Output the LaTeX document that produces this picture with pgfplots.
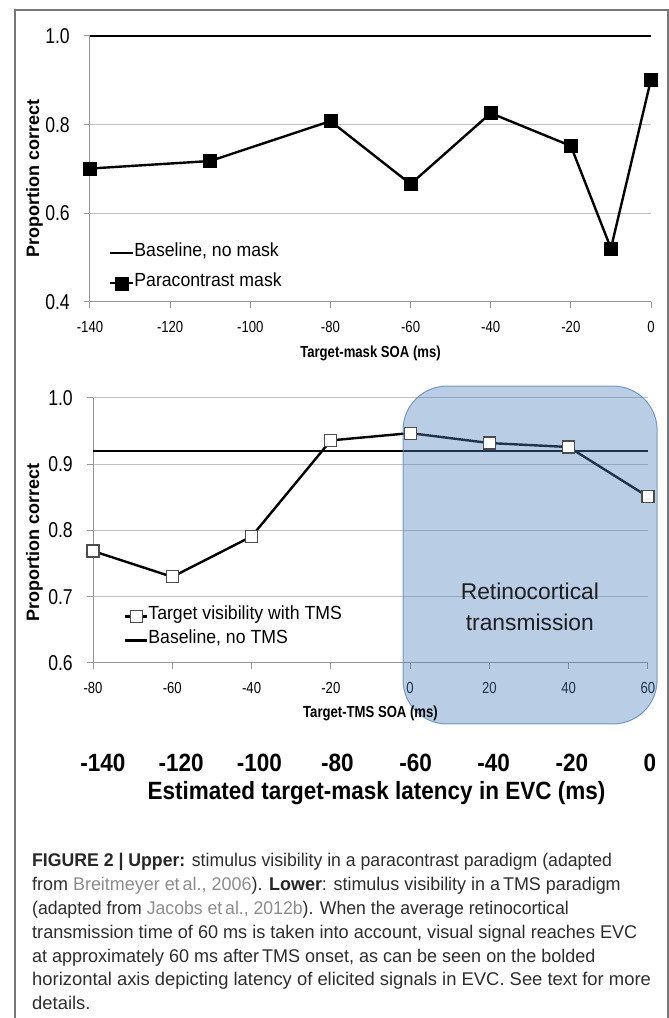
\documentclass[border=0pt]{standalone}
\usepackage{pgfplots}
\pgfplotsset{compat=1.18}
\usepackage{fontspec}
\usepackage{graphicx}
\setmainfont{Liberation Sans}
\newfontfamily\nar{Liberation Sans}[FakeStretch=0.82]
\newfontfamily\leg{Liberation Sans}[FakeStretch=0.93]
\newfontfamily\bigf{Liberation Sans}[FakeStretch=0.9]
\definecolor{gridc}{RGB}{192,192,192}
\definecolor{axc}{RGB}{150,150,150}
\definecolor{boxc}{RGB}{79,129,189}
\definecolor{capc}{RGB}{45,45,45}
\definecolor{linkc}{RGB}{140,140,140}
\definecolor{framec}{RGB}{120,120,120}

\pgfplotsset{
  myax/.style={
    scale only axis,
    clip=false,
    axis x line*=bottom, axis y line*=left,
    axis line style={axc, line width=1pt, -},
    tick style={axc, line width=1pt},
    tick align=outside,
    major tick length=6pt,
    ymajorgrids, grid style={gridc, line width=1pt},
    xticklabel style={font=\nar\fontsize{16}{18}\selectfont, anchor=center, yshift=-18.5pt},
    yticklabel style={font=\nar\fontsize{21.5}{24}\selectfont, anchor=east, inner sep=0pt, xshift=-14pt},
    xlabel style={font=\nar\bfseries\fontsize{16}{18}\selectfont, anchor=center},
    ylabel style={font=\bfseries\fontsize{18}{20}\selectfont, anchor=center},
    legend cell align=left,
  }
}

\begin{document}
\begin{tikzpicture}[x=1pt,y=1pt]
\path[use as bounding box] (0,0) rectangle (669,1018);

% ---------- Upper panel ----------
\begin{axis}[myax, at={(90pt,716pt)}, anchor=south west, width=561pt, height=266pt,
  xmin=-140, xmax=0, ymin=0.4, ymax=1.0,
  xtick={-140,-120,-100,-80,-60,-40,-20,0},
  xticklabels={-140,-120,-100,-80,-60,-40,-20,0},
  ytick={0.4,0.6,0.8,1.0}, yticklabels={0.4,0.6,0.8,1.0},
  xlabel={Target-mask SOA (ms)},
  xlabel style={at={(axis description cs:0.5,-0.1917)}},
  ylabel={Proportion correct},
  ylabel style={at={(axis description cs:-0.0989,0.466)}},
  legend style={draw=none, fill=none, inner sep=0pt, outer sep=0pt,
    at={(0.0339,0.2075)}, anchor=north west, row sep=17pt,
    font=\leg\fontsize{19}{22}\selectfont,
    nodes={inner sep=0pt, text height=10pt, text depth=3pt}},
  legend image code/.code={\draw[mark repeat=2,mark phase=2] plot coordinates {(0pt,0pt) (11.5pt,0pt) (23pt,0pt)};},
]
\addplot[black, line width=2.4pt] coordinates {(-140,1.0) (0,1.0)};
\addlegendentry{Baseline, no mask}
\addplot[black, line width=2.4pt, mark=square*, mark size=6.5pt, mark options={fill=black, line width=0.5pt}]
  coordinates {(-140,0.701) (-110,0.718) (-80,0.808) (-60,0.666) (-40,0.826) (-20,0.752) (-10,0.521) (0,0.902)};
\addlegendentry{Paracontrast mask}
\end{axis}

% ---------- Lower panel ----------
\begin{axis}[myax, at={(93pt,355pt)}, anchor=south west, width=555pt, height=265pt,
  xmin=-80, xmax=60, ymin=0.6, ymax=1.0,
  xtick={-80,-60,-40,-20,0,20,40,60},
  xticklabels={-80,-60,-40,-20,0,20,40,60},
  ytick={0.6,0.7,0.8,0.9,1.0}, yticklabels={0.6,0.7,0.8,0.9,1.0},
  xlabel={Target-TMS SOA (ms)},
  xlabel style={at={(axis description cs:0.5,-0.1887)}},
  ylabel={Proportion correct},
  ylabel style={at={(axis description cs:-0.1054,0.455)}},
  reverse legend,
  legend style={draw=none, fill=none, inner sep=0pt, outer sep=0pt,
    at={(0.0559,0.2)}, anchor=north west, row sep=11pt,
    font=\leg\fontsize{19}{22}\selectfont,
    nodes={inner sep=0pt, text height=10pt, text depth=3pt}},
  legend image code/.code={\draw[mark repeat=2,mark phase=2] plot coordinates {(0pt,0pt) (11pt,0pt) (22pt,0pt)};},
]
\addplot[black, line width=2.2pt] coordinates {(-80,0.92) (60,0.92)};
\addlegendentry{Baseline, no TMS}
\addplot[black, line width=2.4pt, mark=square*, mark size=6pt, mark options={fill=white, draw=black!70, line width=1.1pt}]
  coordinates {(-80,0.769) (-60,0.730) (-40,0.791) (-20,0.936) (0,0.947) (20,0.932) (40,0.926) (60,0.851)};
\addlegendentry{Target visibility with TMS}
\draw[rounded corners=44pt, fill=boxc, fill opacity=0.4, draw=boxc, draw opacity=0.75, line width=1pt]
  (axis cs:-1.8,0.508) rectangle (axis cs:62.3,1.018);
\node[align=center, font=\fontsize{22.8}{31}\selectfont, text=black!88] at (axis cs:30.2,0.684) {Retinocortical\\transmission};
\end{axis}

% ---------- Estimated latency axis ----------
\begin{axis}[scale only axis, at={(103pt,255pt)}, anchor=south west, width=547pt, height=20pt,
  xmin=-140, xmax=0, ymin=0, ymax=1, hide y axis, axis x line*=bottom,
  x axis line style={draw=none}, major tick length=0pt,
  xtick={-140,-120,-100,-80,-60,-40,-20,0},
  xticklabels={-140,-120,-100,-80,-60,-40,-20,0},
  xticklabel style={font=\bigf\bfseries\fontsize{25}{28}\selectfont, anchor=center},
  xlabel={Estimated target-mask latency in EVC (ms)},
  xlabel style={font=\bigf\bfseries\fontsize{25}{28}\selectfont, at={(axis description cs:0.5,-1.5)}, anchor=center}]
\addplot[draw=none] coordinates {(-140,0.5) (0,0.5)};
\end{axis}

% ---------- Caption ----------
\begin{scope}[every node/.style={anchor=base west, inner sep=0pt, font=\fontsize{18.4}{22}\selectfont, text=capc}]
\node at (32,151) {\scalebox{0.96}[1]{\textbf{\color{black!85}FIGURE 2 | Upper:} stimulus visibility in a paracontrast paradigm (adapted}};
\node at (32,127.2) {\scalebox{0.975}[1]{from {\color{linkc}Breitmeyer et\,al., 2006}). \textbf{\color{black!85}Lower}: stimulus visibility in a\,TMS paradigm}};
\node at (32,103.4) {\scalebox{0.958}[1]{(adapted from {\color{linkc}Jacobs et\,al., 2012b}). When the average retinocortical}};
\node at (32,79.6) {\scalebox{0.983}[1]{transmission time of 60 ms is taken into account, visual signal reaches EVC}};
\node at (32,55.8) {\scalebox{0.978}[1]{at approximately 60 ms after\,TMS onset, as can be seen on the bolded}};
\node at (32,32) {horizontal axis depicting latency of elicited signals in EVC. See text for more};
\node at (32,8.2) {details.};
\end{scope}

% ---------- Frame ----------
\draw[framec, line width=1.6pt] (15,-5) -- (15,1008) -- (668,1008) -- (668,-5);
\end{tikzpicture}
\end{document}
